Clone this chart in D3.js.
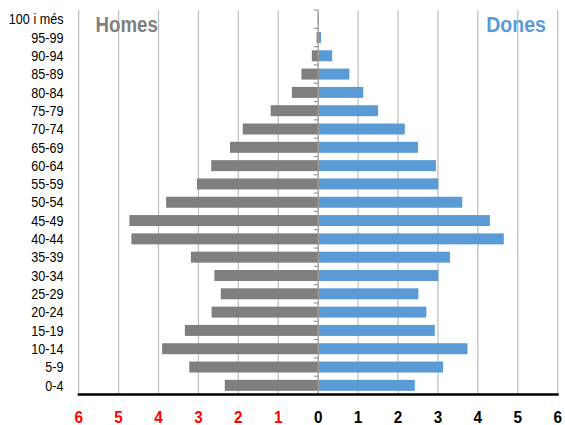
<!DOCTYPE html>
<html>
<head>
<meta charset="utf-8">
<script src="https://cdn.jsdelivr.net/npm/d3@7"></script>
<style>
  html, body { margin: 0; padding: 0; background: #fff; }
  svg { display: block; }
  text { font-family: "Liberation Sans", Arial, sans-serif; }
</style>
</head>
<body>
<script>
// Age groups, oldest at the top
const ageGroups = ["100 i més", "95-99", "90-94", "85-89", "80-84", "75-79", "70-74",
  "65-69", "60-64", "55-59", "50-54", "45-49", "40-44", "35-39", "30-34",
  "25-29", "20-24", "15-19", "10-14", "5-9", "0-4"];

// Share of population (%) for each age group
const men   = [0.01, 0.04, 0.16, 0.42, 0.66, 1.19, 1.89, 2.21, 2.68, 3.04, 3.81, 4.73, 4.68,
  3.19, 2.60, 2.44, 2.67, 3.34, 3.91, 3.23, 2.34];
const women = [0.02, 0.07, 0.35, 0.78, 1.13, 1.50, 2.17, 2.50, 2.95, 3.01, 3.61, 4.30, 4.65,
  3.30, 3.01, 2.51, 2.71, 2.92, 3.74, 3.13, 2.42];

// Axis ticks: magnitudes on both sides of zero
const tickValues = [-6, -5, -4, -3, -2, -1, 0, 1, 2, 3, 4, 5, 6];
const seriesNames = ["Homes", "Dones"];

const W = 565, H = 425;
const svg = d3.select("body").append("svg").attr("width", W).attr("height", H);

const x = d3.scaleLinear().domain([-6, 6]).range([78.7, 557.7]);
const y = d3.scaleBand().domain(ageGroups).range([10, 394.5]).paddingInner(0.4).paddingOuter(0.2);

// Narrow-looking text: place at (px, py) and squeeze horizontally
const squeeze = (px, py, k) => `translate(${px},${py}) scale(${k},1)`;

// Vertical gridlines
svg.append("g").selectAll("line").data(tickValues.filter(d => d !== 0)).join("line")
  .attr("x1", d => x(d)).attr("x2", d => x(d))
  .attr("y1", 10).attr("y2", 394.5)
  .attr("stroke", "#c2c2c2").attr("stroke-width", 1.3);

// Men bars (left)
svg.append("g").selectAll("rect").data(men).join("rect")
  .attr("x", d => x(-d)).attr("width", d => x(0) - x(-d))
  .attr("y", (d, i) => y(ageGroups[i])).attr("height", y.bandwidth())
  .attr("fill", "#7f7f7f");

// Women bars (right)
svg.append("g").selectAll("rect").data(women).join("rect")
  .attr("x", x(0)).attr("width", d => x(d) - x(0))
  .attr("y", (d, i) => y(ageGroups[i])).attr("height", y.bandwidth())
  .attr("fill", "#5b9bd5");

// Central category axis with small ticks at band boundaries
const boundaries = d3.range(ageGroups.length + 1).map(i => 10 + i * (394.5 - 10) / ageGroups.length);
const mid = svg.append("g");
mid.append("line").attr("x1", x(0)).attr("x2", x(0)).attr("y1", 10).attr("y2", 394.5)
  .attr("stroke", "#9a9a9a").attr("stroke-width", 1.3);
mid.selectAll("line.tick").data(boundaries).join("line").attr("class", "tick")
  .attr("x1", x(0) - 4.5).attr("x2", x(0)).attr("y1", d => d).attr("y2", d => d)
  .attr("stroke", "#9a9a9a").attr("stroke-width", 1.2);

// Category labels on the left
svg.append("g").selectAll("text").data(ageGroups).join("text")
  .attr("transform", d => squeeze(63.5, y(d) + y.bandwidth() / 2, 0.87))
  .attr("dy", "0.36em").attr("text-anchor", "end")
  .attr("font-size", 14.5).attr("fill", "#000")
  .text(d => d);

// Bottom value axis
const bottom = svg.append("g").attr("transform", "translate(0,394.5)");
bottom.append("line").attr("x1", x(-6) - 1).attr("x2", x(6) + 1)
  .attr("stroke", "#000").attr("stroke-width", 2.6);
bottom.selectAll("text").data(tickValues).join("text")
  .attr("transform", d => squeeze(x(d), 28.5, 0.9))
  .attr("text-anchor", "middle")
  .attr("font-size", 17).attr("font-weight", "bold")
  .attr("fill", d => d < 0 ? "#ff0000" : "#000")
  .text(d => Math.abs(d));

// Series titles
svg.append("text").attr("transform", squeeze(95.5, 32, 0.85))
  .attr("font-size", 22).attr("font-weight", "bold")
  .attr("fill", "#808080").text(seriesNames[0]);
svg.append("text").attr("transform", squeeze(546, 32, 0.89)).attr("text-anchor", "end")
  .attr("font-size", 22).attr("font-weight", "bold")
  .attr("fill", "#5b9bd5").text(seriesNames[1]);
</script>
</body>
</html>
